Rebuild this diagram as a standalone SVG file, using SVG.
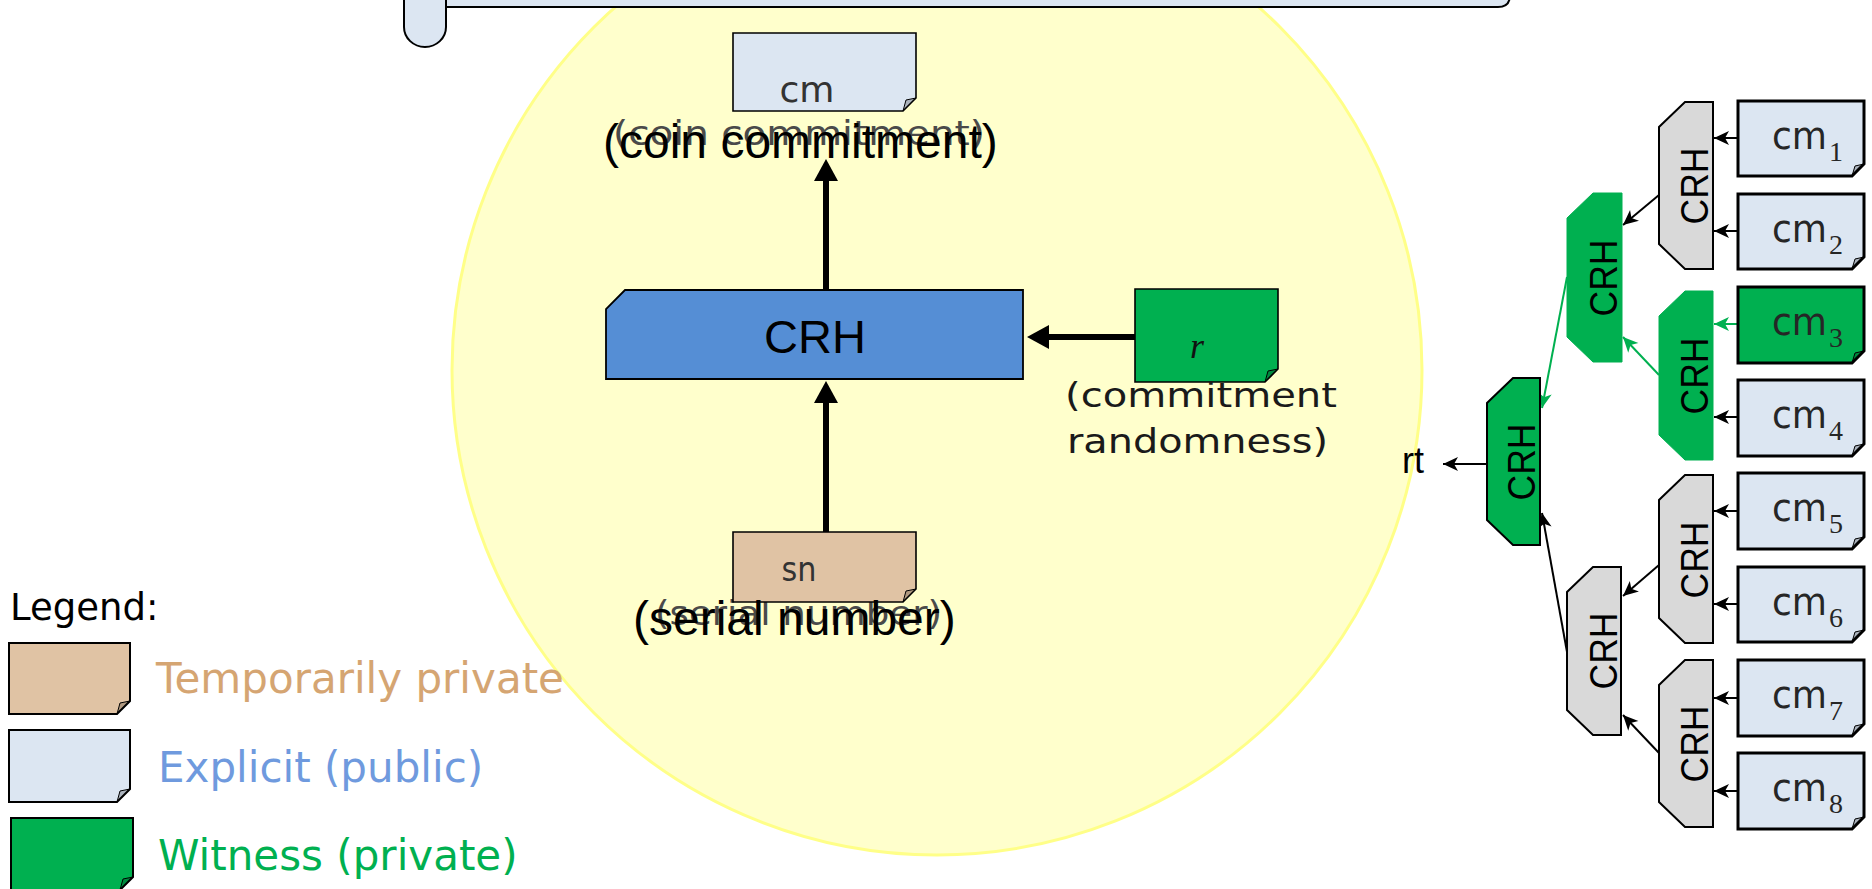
<svg xmlns="http://www.w3.org/2000/svg" width="1872" height="889" viewBox="0 0 1872 889">
  <style>
    .note-blue { fill: #dce6f2; stroke: #000; }
    .note-tan { fill: #e0c3a4; stroke: #000; }
    .note-green { fill: #00b050; stroke: #000; }
    .fold { fill: #000; fill-opacity: 0.22; stroke: #000; stroke-width: 1; }
    .thin { stroke-width: 1.6; }
    .thick { stroke-width: 3; }
    .crh-gray { fill: #d9d9d9; stroke: #000; stroke-width: 2; }
    .crh-green { fill: #00b050; stroke: #00b050; stroke-width: 1; }
    .crh-root { fill: #00b050; stroke: #000; stroke-width: 2; }
    .crh-label { font-family: "Liberation Sans", Arial, sans-serif; font-size: 38px; fill: #000; text-anchor: middle; }
    .gothic { font-family: "DejaVu Sans", sans-serif; }
    .leaf { font-family: "DejaVu Sans", sans-serif; font-size: 39px; fill: #262626; }
    .sub { font-family: "Liberation Serif", serif; font-size: 28px; fill: #262626; }
    .link { stroke: #000; stroke-width: 2; fill: none; }
    .link-green { stroke: #00b050; stroke-width: 2; fill: none; }
    .bold-link { stroke: #000; stroke-width: 6; fill: none; }
    .legend { font-family: "DejaVu Sans", sans-serif; font-size: 42px; }
  </style>
  <defs>
    <marker id="head-bold" markerUnits="userSpaceOnUse" markerWidth="24" markerHeight="26" refX="0" refY="13" orient="auto" overflow="visible">
      <path d="M0,1 L22,13 L0,25 Z" fill="#000"/>
    </marker>
    <marker id="head" markerUnits="userSpaceOnUse" markerWidth="16" markerHeight="14" refX="15" refY="7" orient="auto" overflow="visible">
      <path d="M0,0 L15,7 L0,14 L4,7 Z" fill="#000"/>
    </marker>
    <marker id="head-green" markerUnits="userSpaceOnUse" markerWidth="16" markerHeight="14" refX="15" refY="7" orient="auto" overflow="visible">
      <path d="M0,0 L15,7 L0,14 L4,7 Z" fill="#00b050"/>
    </marker>
  </defs>

  <!-- backdrop: the commitment circuit -->
  <circle id="circuit" cx="937" cy="370" r="485" fill="#ffffcc" stroke="#ffff88" stroke-width="3"/>

  <!-- scroll banner across the top -->
  <g id="banner">
    <path d="M446,-20 V7 H1498 Q1510,7 1510,-5 V-20 Z" fill="#dce6f2" stroke="#000" stroke-width="2"/>
    <path d="M404,-20 V27 A21,20 0 0 0 446,27 V-20 Z" fill="#dce6f2" stroke="#000" stroke-width="2"/>
  </g>

  <!-- captions under the notes (drawn behind the notes) -->
  <text class="gothic" x="613" y="145" font-size="34" fill="#4a4a4a" textLength="372" lengthAdjust="spacingAndGlyphs">(coin commitment)</text>
  <text class="gothic" x="655" y="625" font-size="34" fill="#4a4a4a" textLength="287" lengthAdjust="spacingAndGlyphs">(serial number)</text>

  <!-- connectors -->
  <g id="connectors">
    <line class="bold-link" x1="826" y1="290" x2="826" y2="181" marker-end="url(#head-bold)"/>
    <line class="bold-link" x1="826" y1="532" x2="826" y2="403" marker-end="url(#head-bold)"/>
    <line class="bold-link" x1="1135" y1="337" x2="1049" y2="337" marker-end="url(#head-bold)"/>

    <line class="link" x1="1738" y1="138" x2="1714" y2="138" marker-end="url(#head)"/>
    <line class="link" x1="1738" y1="231" x2="1714" y2="231" marker-end="url(#head)"/>
    <line class="link-green" x1="1738" y1="324" x2="1714" y2="324" marker-end="url(#head-green)"/>
    <line class="link" x1="1738" y1="417" x2="1714" y2="417" marker-end="url(#head)"/>
    <line class="link" x1="1738" y1="511" x2="1714" y2="511" marker-end="url(#head)"/>
    <line class="link" x1="1738" y1="604" x2="1714" y2="604" marker-end="url(#head)"/>
    <line class="link" x1="1738" y1="698" x2="1714" y2="698" marker-end="url(#head)"/>
    <line class="link" x1="1738" y1="791" x2="1714" y2="791" marker-end="url(#head)"/>

    <line class="link" x1="1659" y1="195" x2="1623" y2="225" marker-end="url(#head)"/>
    <line class="link-green" x1="1659" y1="375" x2="1623" y2="337" marker-end="url(#head-green)"/>
    <line class="link" x1="1659" y1="565" x2="1623" y2="596" marker-end="url(#head)"/>
    <line class="link" x1="1659" y1="753" x2="1623" y2="715" marker-end="url(#head)"/>
    <line class="link-green" x1="1567" y1="277" x2="1542" y2="408" marker-end="url(#head-green)"/>
    <line class="link" x1="1567" y1="652" x2="1542" y2="513" marker-end="url(#head)"/>
    <line class="link" x1="1487" y1="464" x2="1443" y2="464" marker-end="url(#head)"/>
  </g>

  <!-- coin commitment note -->
  <g id="cm">
    <path class="note-blue thin" d="M733,33 H916 V98 L903,111 H733 Z"/>
    <path class="fold" d="M903,111 L906,100 L916,98 Z"/>
    <text class="gothic" x="807" y="102" font-size="35" fill="#333" text-anchor="middle" textLength="55" lengthAdjust="spacingAndGlyphs">cm</text>
  </g>
  <text id="cm-caption" x="603" y="158" font-family="Liberation Sans, Arial, sans-serif" font-size="48" fill="#000">(coin commitment)</text>

  <!-- hash block -->
  <g id="crh-main">
    <path d="M625,290 H1023 V379 H606 V309 Z" fill="#558ed5" stroke="#000" stroke-width="1.8"/>
    <text x="815" y="353" font-family="Liberation Sans, Arial, sans-serif" font-size="47" fill="#000" text-anchor="middle">CRH</text>
  </g>

  <!-- randomness note -->
  <g id="r">
    <path class="note-green thin" d="M1135,289 H1278 V369 L1265,382 H1135 Z"/>
    <path class="fold" d="M1265,382 L1268,371 L1278,369 Z"/>
    <text x="1197" y="358" font-family="Liberation Serif, serif" font-style="italic" font-size="36" fill="#111" text-anchor="middle">r</text>
    <text class="gothic" x="1065" y="407" font-size="34" fill="#1a1a1a" textLength="272" lengthAdjust="spacingAndGlyphs">(commitment</text>
    <text class="gothic" x="1067" y="453" font-size="34" fill="#1a1a1a" textLength="261" lengthAdjust="spacingAndGlyphs">randomness)</text>
  </g>

  <!-- serial number note -->
  <g id="sn">
    <path class="note-tan thin" d="M733,532 H916 V589 L903,602 H733 Z"/>
    <path class="fold" d="M903,602 L906,591 L916,589 Z"/>
    <text class="gothic" x="799" y="581" font-size="33" fill="#333" text-anchor="middle" textLength="35" lengthAdjust="spacingAndGlyphs">sn</text>
  </g>
  <text id="sn-caption" x="633" y="635" font-family="Liberation Sans, Arial, sans-serif" font-size="48" fill="#000">(serial number)</text>

  <!-- legend -->
  <g id="legend">
    <text x="10" y="620" font-family="DejaVu Sans, sans-serif" font-size="37" fill="#000">Legend:</text>
    <path class="note-tan" stroke-width="2" d="M9,643 H130 V701 L117,714 H9 Z"/>
    <path class="fold" d="M117,714 L120,703 L130,701 Z"/>
    <text class="legend" x="156" y="693" fill="#d5a572">Temporarily private</text>
    <path class="note-blue" stroke-width="2" d="M9,730 H130 V789 L117,802 H9 Z"/>
    <path class="fold" d="M117,802 L120,791 L130,789 Z"/>
    <text class="legend" x="158" y="782" fill="#6f9ade">Explicit (public)</text>
    <path class="note-green" stroke-width="2" d="M11,818 H133 V877 L120,890 H11 Z"/>
    <path class="fold" d="M120,890 L123,879 L133,877 Z"/>
    <text class="legend" x="158" y="870" fill="#00b050">Witness (private)</text>
  </g>

  <!-- Merkle tree: leaves -->
  <g id="cm1">
    <path class="note-blue thick" d="M1738,101 H1864 V164 L1852,176 H1738 Z"/>
    <path class="fold" d="M1852,176 L1855,166 L1864,164 Z"/>
    <text class="leaf" x="1772" y="149" textLength="55" lengthAdjust="spacingAndGlyphs">cm</text><text class="sub" x="1829" y="161">1</text>
  </g>
  <g id="cm2">
    <path class="note-blue thick" d="M1738,194 H1864 V257 L1852,269 H1738 Z"/>
    <path class="fold" d="M1852,269 L1855,259 L1864,257 Z"/>
    <text class="leaf" x="1772" y="242" textLength="55" lengthAdjust="spacingAndGlyphs">cm</text><text class="sub" x="1829" y="254">2</text>
  </g>
  <g id="cm3">
    <path class="note-green thick" d="M1738,287 H1864 V351 L1852,363 H1738 Z"/>
    <path class="fold" d="M1852,363 L1855,353 L1864,351 Z"/>
    <text class="leaf" x="1772" y="335" textLength="55" lengthAdjust="spacingAndGlyphs">cm</text><text class="sub" x="1829" y="347">3</text>
  </g>
  <g id="cm4">
    <path class="note-blue thick" d="M1738,380 H1864 V444 L1852,456 H1738 Z"/>
    <path class="fold" d="M1852,456 L1855,446 L1864,444 Z"/>
    <text class="leaf" x="1772" y="428" textLength="55" lengthAdjust="spacingAndGlyphs">cm</text><text class="sub" x="1829" y="440">4</text>
  </g>
  <g id="cm5">
    <path class="note-blue thick" d="M1738,473 H1864 V537 L1852,549 H1738 Z"/>
    <path class="fold" d="M1852,549 L1855,539 L1864,537 Z"/>
    <text class="leaf" x="1772" y="521" textLength="55" lengthAdjust="spacingAndGlyphs">cm</text><text class="sub" x="1829" y="533">5</text>
  </g>
  <g id="cm6">
    <path class="note-blue thick" d="M1738,567 H1864 V630 L1852,642 H1738 Z"/>
    <path class="fold" d="M1852,642 L1855,632 L1864,630 Z"/>
    <text class="leaf" x="1772" y="615" textLength="55" lengthAdjust="spacingAndGlyphs">cm</text><text class="sub" x="1829" y="627">6</text>
  </g>
  <g id="cm7">
    <path class="note-blue thick" d="M1738,660 H1864 V724 L1852,736 H1738 Z"/>
    <path class="fold" d="M1852,736 L1855,726 L1864,724 Z"/>
    <text class="leaf" x="1772" y="708" textLength="55" lengthAdjust="spacingAndGlyphs">cm</text><text class="sub" x="1829" y="720">7</text>
  </g>
  <g id="cm8">
    <path class="note-blue thick" d="M1738,753 H1864 V817 L1852,829 H1738 Z"/>
    <path class="fold" d="M1852,829 L1855,819 L1864,817 Z"/>
    <text class="leaf" x="1772" y="801" textLength="55" lengthAdjust="spacingAndGlyphs">cm</text><text class="sub" x="1829" y="813">8</text>
  </g>

  <!-- Merkle tree: hash nodes -->
  <g id="crh-12">
    <path class="crh-gray" d="M1685,102 H1713 V269 H1685 L1659,244 V127 Z"/>
    <text class="crh-label" transform="translate(1708,186) rotate(-90)" textLength="77" lengthAdjust="spacingAndGlyphs">CRH</text>
  </g>
  <g id="crh-34">
    <path class="crh-green" d="M1685,291 H1713 V460 H1685 L1659,435 V316 Z"/>
    <text class="crh-label" transform="translate(1708,376) rotate(-90)" textLength="77" lengthAdjust="spacingAndGlyphs">CRH</text>
  </g>
  <g id="crh-56">
    <path class="crh-gray" d="M1685,475 H1713 V643 H1685 L1659,618 V500 Z"/>
    <text class="crh-label" transform="translate(1708,560) rotate(-90)" textLength="77" lengthAdjust="spacingAndGlyphs">CRH</text>
  </g>
  <g id="crh-78">
    <path class="crh-gray" d="M1685,660 H1713 V827 H1685 L1659,802 V685 Z"/>
    <text class="crh-label" transform="translate(1708,744) rotate(-90)" textLength="77" lengthAdjust="spacingAndGlyphs">CRH</text>
  </g>
  <g id="crh-1234">
    <path class="crh-green" d="M1593,193 H1622 V362 H1593 L1567,337 V218 Z"/>
    <text class="crh-label" transform="translate(1617,278) rotate(-90)" textLength="77" lengthAdjust="spacingAndGlyphs">CRH</text>
  </g>
  <g id="crh-5678">
    <path class="crh-gray" d="M1593,567 H1621 V735 H1593 L1567,710 V592 Z"/>
    <text class="crh-label" transform="translate(1617,651) rotate(-90)" textLength="77" lengthAdjust="spacingAndGlyphs">CRH</text>
  </g>
  <g id="crh-root">
    <path class="crh-root" d="M1513,378 H1540 V545 H1513 L1487,520 V403 Z"/>
    <text class="crh-label" transform="translate(1535,462) rotate(-90)" textLength="77" lengthAdjust="spacingAndGlyphs">CRH</text>
  </g>
  <text id="rt" x="1402" y="473" font-family="Liberation Sans, Arial, sans-serif" font-size="36" fill="#000">rt</text>
</svg>
